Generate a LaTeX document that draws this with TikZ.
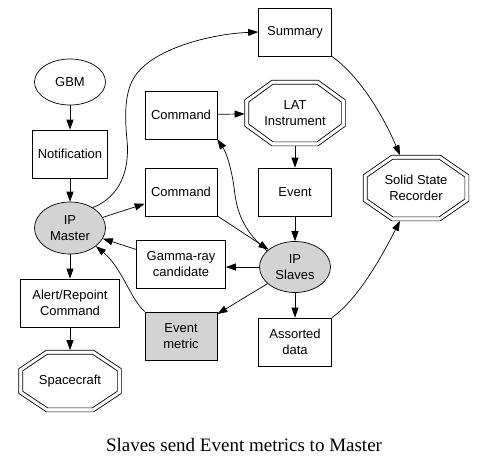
\documentclass[tikz,border=0pt]{standalone}
\usepackage{fontspec}
\setmainfont{Liberation Sans}
\newfontfamily\capfont{Liberation Serif}
\usetikzlibrary{arrows.meta,calc,shapes.geometric}

\definecolor{nodegray}{HTML}{D3D3D3}

% octagon ring round a node, #2 = inset
\newcommand{\octring}[2]{%
  \draw ($(#1.north west)!0.27!(#1.north east)+(0.3*#2,-#2)$)
     -- ($(#1.north west)!0.73!(#1.north east)+(-0.3*#2,-#2)$)
     -- ($(#1.north east)!0.3!(#1.south east)+(-#2,-0.54*#2)$)
     -- ($(#1.north east)!0.7!(#1.south east)+(-#2,0.54*#2)$)
     -- ($(#1.south west)!0.73!(#1.south east)+(-0.3*#2,#2)$)
     -- ($(#1.south west)!0.27!(#1.south east)+(0.3*#2,#2)$)
     -- ($(#1.north west)!0.7!(#1.south west)+(#2,0.54*#2)$)
     -- ($(#1.north west)!0.3!(#1.south west)+(#2,-0.54*#2)$) -- cycle;}
\newcommand{\dbloct}[1]{\octring{#1}{0pt}\octring{#1}{4pt}}

\begin{document}
\begin{tikzpicture}[
  x=1pt, y=1pt, line width=0.7pt,
  box/.style={draw, rectangle, align=center, font=\fontsize{13}{15.5}\selectfont,
              minimum width=72pt, minimum height=48pt, inner xsep=3pt},
  oval/.style={draw, ellipse, align=center, font=\fontsize{13}{15.5}\selectfont,
               minimum width=71pt, minimum height=50pt, inner sep=0pt},
  octa/.style={rectangle, align=center, font=\fontsize{13}{15.5}\selectfont, inner sep=0pt},
  arr/.style={-{Triangle[length=10pt, width=7pt]}}
]
\useasboundingbox (0,0) rectangle (487,-467);

% left column
\node[oval, minimum height=46pt] (gbm) at (70,-82) {GBM};
\node[box, minimum width=75pt] (notif) at (70,-154) {Notification};
\node[oval, fill=nodegray, minimum height=52pt] (master) at (70,-228) {IP\\Master};
\node[box, minimum width=99pt] (alert) at (70,-303) {Alert/Repoint\\Command};
\node[octa, minimum width=102pt, minimum height=61pt] (space) at (70,-381) {Spacecraft};

% middle column
\node[box] (cmda) at (181,-115) {Command};
\node[box] (cmdb) at (181,-192) {Command};
\node[box, minimum width=89pt] (gamma) at (181,-264) {Gamma-ray\\candidate};
\node[box, fill=nodegray] (emetric) at (181,-336) {Event\\metric};

% right columns
\node[box, minimum width=73pt] (summary) at (295,-32) {Summary};
\node[octa, minimum width=100pt, minimum height=65pt] (lat) at (295,-113) {LAT\\Instrument};
\node[box, minimum width=73pt] (event) at (295,-192) {Event};
\node[oval, fill=nodegray, minimum height=51pt] (slaves) at (295,-267) {IP\\Slaves};
\node[box, minimum width=73pt] (assorted) at (295,-342) {Assorted\\data};
\node[octa, minimum width=105pt, minimum height=65pt] (ssr) at (416,-188) {Solid State\\Recorder};

\dbloct{lat}
\dbloct{ssr}
\dbloct{space}

\node[font=\capfont\fontsize{19}{22}\selectfont] (caption) at (244,-445)
  {Slaves send Event metrics to Master};

\draw[arr] (gbm) -- (notif);
\draw[arr] (notif) -- (master);
\draw[arr] (master) -- (alert);
\draw[arr] (alert) -- (space);
\draw[arr] (master) -- (cmdb);
\draw[arr] (master.42) .. controls (120,-197) and (130,-170) .. (127,-140)
   .. controls (124,-110) and (125,-85) .. (140,-70)
   .. controls (160,-48) and (210,-34) .. (summary.west);
\draw[arr] (cmda) -- (lat);
\draw[arr] (lat) -- (event);
\draw[arr] (event) -- (slaves);
\draw[arr] (cmdb) -- (slaves);
\draw[arr] (slaves.150) .. controls (245,-232) and (238,-215) .. (235,-195)
   .. controls (232,-168) and (226,-152) .. (cmda.south east);
\draw[arr] (slaves) -- (slaves -| gamma.east);
\draw[arr] (gamma) -- (master);
\draw[arr] (slaves) -- (emetric);
\draw[arr] (emetric.north west) .. controls (130,-298) and (122,-268) .. (master.-35);
\draw[arr] (slaves) -- (assorted);
\draw[arr] (assorted.north east) .. controls (360,-298) and (385,-250) .. ($(ssr.south)+(-16,0)$);
\draw[arr] (summary.south east) .. controls (362,-78) and (385,-120) .. ($(ssr.north)+(-16,0)$);
\end{tikzpicture}
\end{document}
